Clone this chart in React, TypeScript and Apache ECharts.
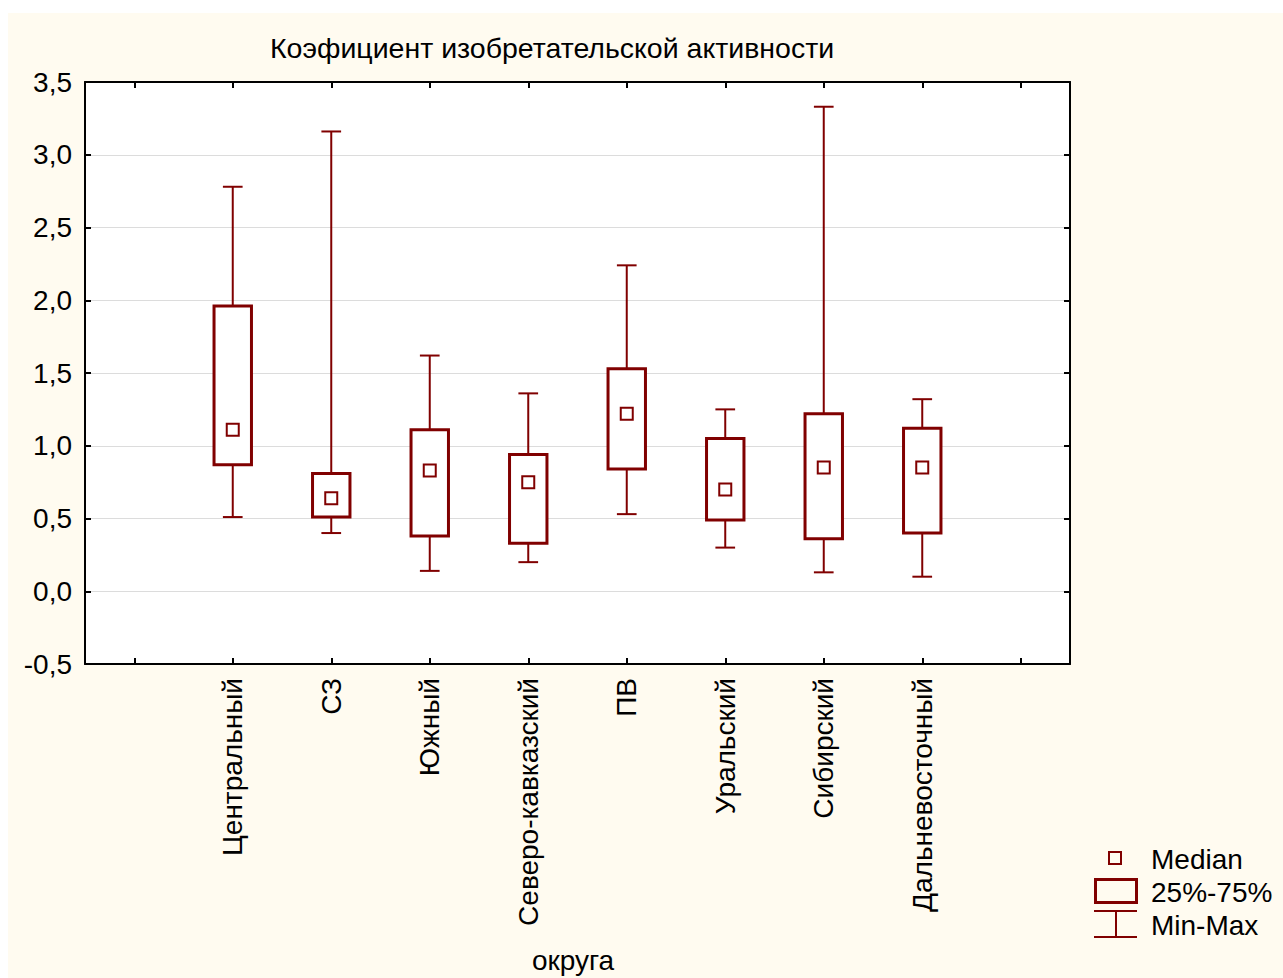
import React, { useEffect, useRef } from "react";
import * as echarts from "echarts";

const categories = [
  "Центральный",
  "СЗ",
  "Южный",
  "Северо-кавказский",
  "ПВ",
  "Уральский",
  "Сибирский",
  "Дальневосточный",
];
const minValues = [0.51, 0.4, 0.14, 0.2, 0.53, 0.3, 0.13, 0.1];
const q1Values = [0.87, 0.51, 0.38, 0.33, 0.84, 0.49, 0.36, 0.4];
const medianValues = [1.11, 0.64, 0.83, 0.75, 1.22, 0.7, 0.85, 0.85];
const q3Values = [1.96, 0.81, 1.11, 0.94, 1.53, 1.05, 1.22, 1.12];
const maxValues = [2.78, 3.16, 1.62, 1.36, 2.24, 1.25, 3.33, 1.32];

const titleText = "Коэфициент изобретательской активности";
const xAxisName = "округа";
const legendLabels = ["Median", "25%-75%", "Min-Max"];

const RED = "#800000";
const BG = "#FFFBF0";
const FONT = "'Liberation Sans', Arial, sans-serif";
const FS = 28;

export default function App() {
  const ref = useRef<HTMLDivElement>(null);

  useEffect(() => {
    if (!ref.current) return;
    const chart = echarts.init(ref.current, undefined, { renderer: "svg" });
    const axisData = ["", ...categories, ""];
    const data = categories.map((_, i) => [
      i + 1,
      minValues[i],
      q1Values[i],
      medianValues[i],
      q3Values[i],
      maxValues[i],
    ]);

    const renderItem = (params: any, api: any) => {
      const x = api.value(0);
      const pMin = api.coord([x, api.value(1)]);
      const pQ1 = api.coord([x, api.value(2)]);
      const pMed = api.coord([x, api.value(3)]);
      const pQ3 = api.coord([x, api.value(4)]);
      const pMax = api.coord([x, api.value(5)]);
      const band = api.size([1, 0])[0];
      const bw = band * 0.38;
      const cap = band * 0.2;
      const cx = pMed[0];
      const ms = 12;
      const lineStyle = { stroke: RED, lineWidth: 2, fill: "none" };
      return {
        type: "group",
        children: [
          { type: "line", shape: { x1: cx, y1: pMax[1], x2: cx, y2: pQ3[1] }, style: lineStyle },
          { type: "line", shape: { x1: cx, y1: pQ1[1], x2: cx, y2: pMin[1] }, style: lineStyle },
          { type: "line", shape: { x1: cx - cap / 2, y1: pMax[1], x2: cx + cap / 2, y2: pMax[1] }, style: lineStyle },
          { type: "line", shape: { x1: cx - cap / 2, y1: pMin[1], x2: cx + cap / 2, y2: pMin[1] }, style: lineStyle },
          {
            type: "rect",
            shape: { x: cx - bw / 2, y: pQ3[1], width: bw, height: pQ1[1] - pQ3[1] },
            style: { stroke: RED, lineWidth: 3, fill: "#ffffff" },
          },
          {
            type: "rect",
            shape: { x: cx - ms / 2, y: pMed[1] - ms / 2, width: ms, height: ms },
            style: { stroke: RED, lineWidth: 2, fill: "#ffffff" },
          },
        ],
      };
    };

    const axisLine = { show: true, onZero: false, lineStyle: { color: "#000", width: 2 } };
    const axisTick = { show: true, inside: true, length: 6, lineStyle: { color: "#000", width: 2 } };

    chart.setOption({
      animation: false,
      backgroundColor: BG,
      textStyle: { fontFamily: FONT },
      grid: {
        left: 77,
        top: 69,
        right: 213,
        bottom: 314,
        show: true,
        backgroundColor: "#ffffff",
        borderWidth: 0,
        containLabel: false,
      },
      xAxis: [
        {
          type: "category",
          position: "bottom",
          data: axisData,
          boundaryGap: true,
          axisLine,
          axisTick: { ...axisTick, alignWithLabel: true, interval: 0 },
          axisLabel: {
            interval: 0,
            rotate: 90,
            margin: 14,
            color: "#000",
            fontSize: FS,
            fontFamily: FONT,
          },
          splitLine: { show: false },
        },
        {
          type: "category",
          position: "top",
          data: axisData,
          boundaryGap: true,
          axisLine,
          axisTick: { ...axisTick, alignWithLabel: true, interval: 0 },
          axisLabel: { show: false },
          splitLine: { show: false },
        },
      ],
      yAxis: [
        {
          type: "value",
          position: "left",
          min: -0.5,
          max: 3.5,
          interval: 0.5,
          axisLine,
          axisTick,
          axisLabel: {
            margin: 13,
            color: "#000",
            fontSize: FS,
            fontFamily: FONT,
            formatter: (v: number) => v.toFixed(1).replace(".", ","),
          },
          splitLine: { show: true, lineStyle: { color: "#dcdcdc", width: 1 } },
        },
        {
          type: "value",
          position: "right",
          min: -0.5,
          max: 3.5,
          interval: 0.5,
          axisLine,
          axisTick,
          axisLabel: { show: false },
          splitLine: { show: false },
        },
      ],
      series: [
        {
          type: "custom",
          renderItem,
          data,
          encode: { x: 0, y: [1, 2, 3, 4, 5] },
          xAxisIndex: 0,
          yAxisIndex: 0,
          z: 10,
        },
      ],
      graphic: [
        {
          type: "text",
          x: 262,
          y: 35,
          style: {
            text: titleText,
            fontSize: 28.5,
            fontFamily: FONT,
            fill: "#000",
            verticalAlign: "middle",
          },
        },
        {
          type: "text",
          x: 565,
          y: 947,
          style: {
            text: xAxisName,
            fontSize: FS,
            fontFamily: FONT,
            fill: "#000",
            align: "center",
            verticalAlign: "middle",
          },
        },
        {
          type: "rect",
          shape: { x: 1101, y: 839, width: 12, height: 12 },
          style: { stroke: RED, lineWidth: 2, fill: "none" },
        },
        {
          type: "rect",
          shape: { x: 1087.5, y: 866.5, width: 41, height: 23 },
          style: { stroke: RED, lineWidth: 3, fill: "none" },
        },
        {
          type: "line",
          shape: { x1: 1086, y1: 898, x2: 1129, y2: 898 },
          style: { stroke: RED, lineWidth: 2 },
        },
        {
          type: "line",
          shape: { x1: 1086, y1: 924, x2: 1129, y2: 924 },
          style: { stroke: RED, lineWidth: 2 },
        },
        {
          type: "line",
          shape: { x1: 1108, y1: 898, x2: 1108, y2: 924 },
          style: { stroke: RED, lineWidth: 2 },
        },
        ...legendLabels.map((t, i) => ({
          type: "text",
          x: 1143,
          y: [846, 879, 912][i],
          style: {
            text: t,
            fontSize: FS,
            fontFamily: FONT,
            fill: "#000",
            verticalAlign: "middle",
          },
        })),
      ],
    });
    return () => chart.dispose();
  }, []);

  return (
    <div
      ref={ref}
      style={{ position: "absolute", left: 8, top: 13, width: 1275, height: 965 }}
    />
  );
}
